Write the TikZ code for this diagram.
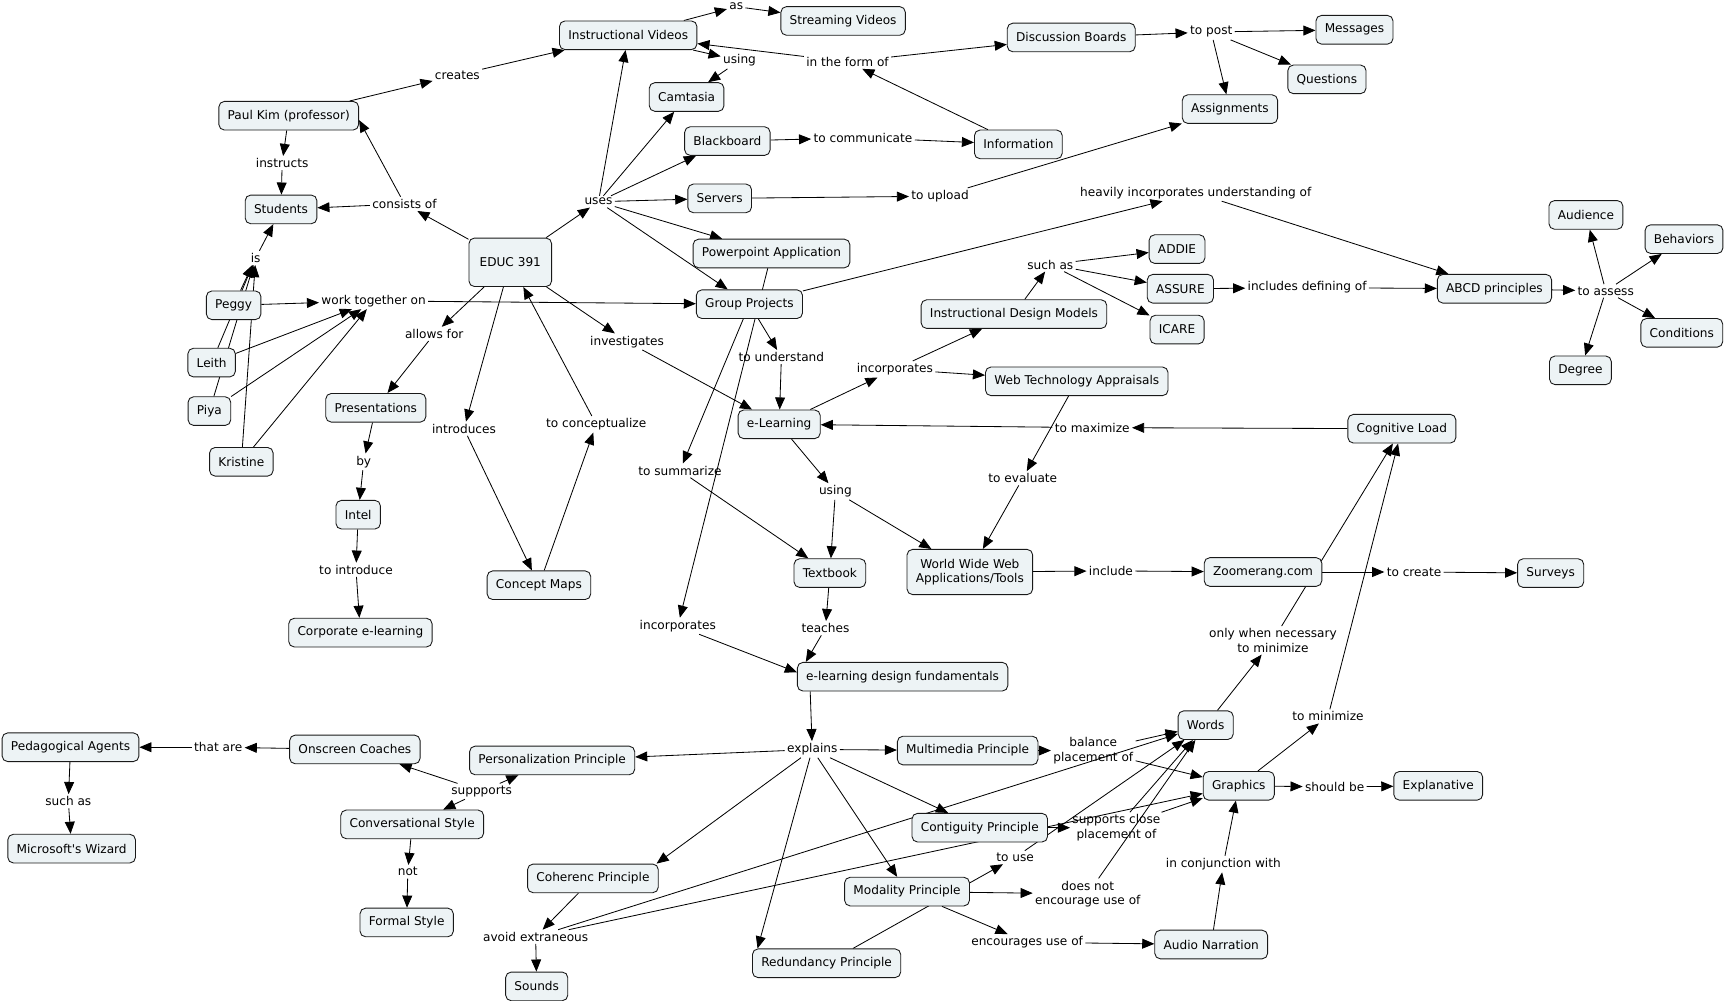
\documentclass[tikz,border=0pt]{standalone}
\usepackage{fontspec}
\setmainfont{DejaVu Sans}
\usetikzlibrary{arrows.meta,backgrounds,positioning}

\definecolor{cmapfill}{RGB}{237,243,245}

\tikzset{
  concept/.style={draw=black!90, line width=0.8pt, fill=cmapfill, rounded corners=5pt, inner xsep=8pt, inner ysep=3pt,
    minimum height=26pt, font=\fontsize{11}{13}\selectfont, align=center},
  phrase/.style={inner sep=2pt, font=\fontsize{11}{13}\selectfont, align=center},
  link/.style={draw=black, line width=0.75pt, -{Triangle[length=11pt,width=9pt]}},
}

\begin{document}
\begin{tikzpicture}[x=1pt,y=-1pt]
    \useasboundingbox (0,0) rectangle (1567,908);

    % Concepts
    \node[concept] (instvid) at (570,32) {Instructional Videos};
    \node[concept] (stream) at (765,19) {Streaming Videos};
    \node[concept] (discuss) at (972,34) {Discussion Boards};
    \node[concept] (messages) at (1229,27) {Messages};
    \node[concept] (questions) at (1204,72) {Questions};
    \node[concept] (assign) at (1116,99) {Assignments};
    \node[concept] (camtasia) at (623,88) {Camtasia};
    \node[concept] (blackboard) at (660,128) {Blackboard};
    \node[concept] (info) at (924,131) {Information};
    \node[concept] (paulkim) at (262,105) {Paul Kim (professor)};
    \node[concept] (students) at (255,190) {Students};
    \node[concept, minimum width=75pt, minimum height=44pt] (educ) at (463,238) {EDUC 391};
    \node[concept] (servers) at (653,180) {Servers};
    \node[concept] (ppt) at (700,230) {Powerpoint Application};
    \node[concept] (groupproj) at (680,276) {Group Projects};
    \node[concept] (peggy) at (212,277) {Peggy};
    \node[concept] (leith) at (192,329) {Leith};
    \node[concept] (piya) at (190,373) {Piya};
    \node[concept] (kristine) at (219,419) {Kristine};
    \node[concept] (present) at (341,370) {Presentations};
    \node[concept] (intel) at (325,467) {Intel};
    \node[concept] (corporate) at (327,574) {Corporate e-learning};
    \node[concept] (conceptmaps) at (489,531) {Concept Maps};
    \node[concept] (elearning) at (707,385) {e-Learning};
    \node[concept] (idm) at (920,285) {Instructional Design Models};
    \node[concept] (addie) at (1068,226) {ADDIE};
    \node[concept] (assure) at (1071,262) {ASSURE};
    \node[concept] (icare) at (1068,299) {ICARE};
    \node[concept] (abcd) at (1356,262) {ABCD principles};
    \node[concept] (audience) at (1439,195) {Audience};
    \node[concept] (behaviors) at (1528,217) {Behaviors};
    \node[concept] (conditions) at (1526,302) {Conditions};
    \node[concept] (degree) at (1434,336) {Degree};
    \node[concept] (wta) at (977,346) {Web Technology Appraisals};
    \node[concept] (cogload) at (1272,389) {Cognitive Load};
    \node[concept] (textbook) at (753,520) {Textbook};
    \node[concept, minimum height=41pt] (www) at (880,519) {World Wide Web\\Applications/Tools};
    \node[concept] (zoomerang) at (1146,519) {Zoomerang.com};
    \node[concept] (surveys) at (1407,520) {Surveys};
    \node[concept] (fundamentals) at (819,614) {e-learning design fundamentals};
    \node[concept] (pedagog) at (64,678) {Pedagogical Agents};
    \node[concept] (mswizard) at (65,770) {Microsoft\textquotesingle s Wizard};
    \node[concept] (onscreen) at (322,680) {Onscreen Coaches};
    \node[concept] (personal) at (501,690) {Personalization Principle};
    \node[concept] (multimedia) at (878,681) {Multimedia Principle};
    \node[concept] (words) at (1094,658) {Words};
    \node[concept] (graphics) at (1124,713) {Graphics};
    \node[concept] (explan) at (1305,713) {Explanative};
    \node[concept] (convers) at (374,748) {Conversational Style};
    \node[concept] (contig) at (889,751) {Contiguity Principle};
    \node[concept] (coherenc) at (538,797) {Coherenc Principle};
    \node[concept] (modality) at (823,809) {Modality Principle};
    \node[concept] (formal) at (369,837) {Formal Style};
    \node[concept] (audio) at (1099,857) {Audio Narration};
    \node[concept] (sounds) at (487,895) {Sounds};
    \node[concept] (redund) at (750,874) {Redundancy Principle};

    % Linking phrases
    \node[phrase] (creates) at (415,68) {creates};
    \node[phrase] (as) at (668,6) {as};
    \node[phrase] (usingA) at (671,55) {using};
    \node[phrase] (inform) at (769,56) {in the form of};
    \node[phrase] (topost) at (1099,29) {to post};
    \node[phrase] (tocomm) at (783,125) {to communicate};
    \node[phrase] (instructs) at (256,148) {instructs};
    \node[phrase] (consists) at (367,185) {consists of};
    \node[phrase] (uses) at (543,183) {uses};
    \node[phrase] (toupload) at (853,178) {to upload};
    \node[phrase] (heavily) at (1085,175) {heavily incorporates understanding of};
    \node[phrase] (is) at (232,234) {is};
    \node[phrase] (worktog) at (339,273) {work together on};
    \node[phrase] (suchasA) at (953,240) {such as};
    \node[phrase] (includes) at (1186,261) {includes defining of};
    \node[phrase] (toassess) at (1457,264) {to assess};
    \node[phrase] (allows) at (394,303) {allows for};
    \node[phrase] (investig) at (569,310) {investigates};
    \node[phrase] (tounder) at (709,324) {to understand};
    \node[phrase] (incorpA) at (812,335) {incorporates};
    \node[phrase] (introduces) at (421,389) {introduces};
    \node[phrase] (toconcept) at (541,385) {to conceptualize};
    \node[phrase] (tomax) at (991,388) {to maximize};
    \node[phrase] (by) at (330,419) {by};
    \node[phrase] (tosumm) at (617,427) {to summarize};
    \node[phrase] (toeval) at (928,434) {to evaluate};
    \node[phrase] (usingB) at (758,446) {using};
    \node[phrase] (tointro) at (323,517) {to introduce};
    \node[phrase] (include) at (1008,518) {include};
    \node[phrase] (tocreate) at (1283,519) {to create};
    \node[phrase] (incorpB) at (615,568) {incorporates};
    \node[phrase] (teaches) at (749,570) {teaches};
    \node[phrase] (onlywhen) at (1155,581) {only when necessary\\to minimize};
    \node[phrase] (tomin) at (1205,650) {to minimize};
    \node[phrase] (thatare) at (198,678) {that are};
    \node[phrase] (explains) at (737,680) {explains};
    \node[phrase] (balance) at (992,681) {balance\\placement of};
    \node[phrase] (shouldbe) at (1211,714) {should be};
    \node[phrase] (suppports) at (437,718) {suppports};
    \node[phrase] (suchasB) at (62,727) {such as};
    \node[phrase] (supclose) at (1013,751) {supports close\\placement of};
    \node[phrase] (touse) at (921,778) {to use};
    \node[phrase] (conj) at (1110,784) {in conjunction with};
    \node[phrase] (not) at (370,791) {not};
    \node[phrase] (doesnot) at (987,811) {does not\\encourage use of};
    \node[phrase] (avoid) at (486,850) {avoid extraneous};
    \node[phrase] (encour) at (932,855) {encourages use of};

    % Connectors, behind the boxes
    \begin{pgfonlayer}{background}
    \draw[link] (paulkim) -- (creates);
    \draw[link] (creates) -- (instvid);
    \draw[link] (paulkim) -- (instructs);
    \draw[link] (instructs) -- (students);
    \draw[link] (instvid) -- (as);
    \draw[link] (as) -- (stream);
    \draw[link] (instvid) -- (usingA);
    \draw[link] (usingA) -- (camtasia);
    \draw[link] (info) -- (inform);
    \draw[link] (inform) -- (instvid);
    \draw[link] (inform) -- (discuss);
    \draw[link] (discuss) -- (topost);
    \draw[link] (topost) -- (messages);
    \draw[link] (topost) -- (questions);
    \draw[link] (topost) -- (assign);
    \draw[link] (blackboard) -- (tocomm);
    \draw[link] (tocomm) -- (info);
    \draw[link] (servers) -- (toupload);
    \draw[link] (toupload) -- (assign);

    % EDUC 391
    \draw[link] (educ) -- (consists);
    \draw[link] (consists) -- (students);
    \draw[link] (consists) -- ([yshift=-4pt]paulkim.east);
    \draw[link] (educ) -- (uses);
    \foreach \t in {instvid,camtasia,blackboard,servers,ppt,groupproj}
        \draw[link] (uses) -- (\t);
    \draw[link] (educ) -- (allows);
    \draw[link] (allows) -- (present);
    \draw[link] (present) -- (by);
    \draw[link] (by) -- (intel);
    \draw[link] (intel) -- (tointro);
    \draw[link] (tointro) -- (corporate);
    \draw[link] (educ) -- (introduces);
    \draw[link] (introduces) -- (conceptmaps);
    \draw[link] (conceptmaps) -- (toconcept);
    \draw[link] (toconcept) -- (educ);
    \draw[link] (educ) -- (investig);
    \draw[link] (investig) -- (elearning);

    % students
    \foreach \s in {peggy,leith,piya,kristine} {
        \draw[link] (\s) -- (is);
        \draw[link] (\s) -- (worktog);
    }
    \draw[link] (is) -- (students);
    \draw[link] (worktog) -- (groupproj);

    % Group Projects
    \draw[link] (groupproj) -- (heavily);
    \draw[link] (heavily) -- (abcd);
    \draw[link] (groupproj) -- (tounder);
    \draw[link] (tounder) -- (elearning);
    \draw[link] (groupproj) -- (tosumm);
    \draw[link] (tosumm) -- (textbook);
    \draw[link] (ppt) -- (incorpB);
    \draw[link] (incorpB) -- ([yshift=4pt]fundamentals.west);

    % e-Learning
    \draw[link] (elearning) -- (incorpA);
    \draw[link] (incorpA) -- (idm);
    \draw[link] (incorpA) -- (wta);
    \draw[link] (idm) -- (suchasA);
    \foreach \t in {addie,assure,icare}
        \draw[link] (suchasA) -- (\t);
    \draw[link] (assure) -- (includes);
    \draw[link] (includes) -- (abcd);
    \draw[link] (abcd) -- (toassess);
    \foreach \t in {audience,behaviors,conditions,degree}
        \draw[link] (toassess) -- (\t);
    \draw[link] (wta) -- (toeval);
    \draw[link] (toeval) -- (www);
    \draw[link] (cogload) -- (tomax);
    \draw[link] (tomax) -- (elearning);
    \draw[link] (elearning) -- (usingB);
    \draw[link] (usingB) -- (textbook);
    \draw[link] (usingB) -- (www);
    \draw[link] (www) -- (include);
    \draw[link] (include) -- (zoomerang);
    \draw[link] (zoomerang) -- (tocreate);
    \draw[link] (tocreate) -- (surveys);
    \draw[link] (textbook) -- (teaches);
    \draw[link] (teaches) -- ([xshift=8pt]fundamentals.north west);

    % design fundamentals
    \draw[link] ([xshift=12pt]fundamentals.south west) -- (explains);
    \foreach \t in {personal,multimedia,contig,modality}
        \draw[link] (explains) -- (\t);
    \draw[link] (explains) -- ([xshift=-2pt]coherenc.north east);
    \draw[link] (explains) -- ([xshift=5pt]redund.north west);
    \draw[link] (suppports) -- (personal);
    \draw[link] (suppports) -- (onscreen);
    \draw[link] (suppports) -- (convers);
    \draw[link] (onscreen) -- (thatare);
    \draw[link] (thatare) -- (pedagog);
    \draw[link] (pedagog) -- (suchasB);
    \draw[link] (suchasB) -- (mswizard);
    \draw[link] (convers) -- (not);
    \draw[link] (not) -- (formal);
    \draw[link] (multimedia) -- (balance);
    \draw[link] (balance) -- (words);
    \draw[link] (balance) -- (graphics);
    \draw[link] (contig) -- (supclose);
    \draw[link] (supclose) -- (words);
    \draw[link] (supclose) -- (graphics);
    \draw[link] (coherenc) -- (avoid);
    \draw[link] (avoid) -- (sounds);
    \draw[link] (avoid) -- (words);
    \draw[link] (avoid) -- (graphics);
    \draw[link] (redund) -- (touse);
    \draw[link] (touse) -- (words);
    \draw[link] (modality) -- (doesnot);
    \draw[link] (doesnot) -- (words);
    \draw[link] (modality) -- (encour);
    \draw[link] (encour) -- (audio);
    \draw[link] (audio) -- (conj);
    \draw[link] (conj) -- (graphics);
    \draw[link] (graphics) -- (shouldbe);
    \draw[link] (shouldbe) -- (explan);
    \draw[link] (graphics) -- (tomin);
    \draw[link] (tomin) -- (cogload);
    \draw[link] (words) -- (onlywhen);
    \draw[link] (onlywhen) -- (cogload);
    \end{pgfonlayer}
\end{tikzpicture}
\end{document}
